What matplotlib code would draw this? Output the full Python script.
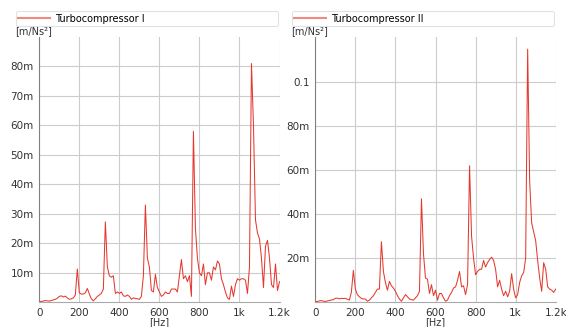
import numpy as np
import matplotlib
matplotlib.use("Agg")
import matplotlib.pyplot as plt
from matplotlib.ticker import FuncFormatter

# Data (amplitude in milli m/Ns^2, 10 Hz steps)
freq = np.arange(0, 1201, 10)

amp_1 = [0.3, 0.3, 0.4, 0.6, 0.5, 0.4, 0.6, 0.8, 1.0, 1.4,
         2.0, 2.2, 1.8, 2.1, 1.5, 1.0, 1.2, 1.5, 2.5, 11.3,
         3.2, 2.8, 2.8, 3.2, 4.7, 2.8, 1.2, 0.5, 1.2, 2.0,
         2.5, 3.0, 4.5, 27.3, 12.0, 9.0, 8.5, 9.0, 3.0, 3.5,
         3.0, 3.5, 2.2, 2.0, 2.5, 2.0, 1.0, 1.5, 1.3, 1.2,
         1.0, 2.0, 9.0, 33.0, 15.0, 12.0, 4.0, 3.5, 9.5, 5.0,
         3.5, 2.0, 2.5, 3.5, 3.0, 3.0, 4.5, 4.5, 4.5, 3.5,
         9.0, 14.5, 8.0, 9.0, 7.0, 9.0, 2.0, 58.0, 25.0, 15.0,
         10.0, 9.0, 13.0, 6.0, 10.0, 10.0, 7.5, 12.0, 11.0, 14.0,
         13.0, 8.0, 6.0, 3.5, 1.5, 1.0, 5.5, 2.0, 6.0, 8.0,
         7.5, 8.0, 8.0, 7.5, 3.0, 12.0, 81.0, 60.0, 28.0, 23.5,
         21.5, 15.0, 5.0, 19.0, 21.0, 15.0, 6.0, 5.0, 13.0, 4.0,
         7.0]

amp_2 = [0.3, 0.4, 0.6, 0.8, 0.5, 0.4, 0.6, 0.8, 1.0, 1.2,
         1.8, 1.9, 1.6, 1.8, 1.7, 1.8, 1.4, 1.0, 4.5, 14.5,
         6.0, 3.5, 2.5, 1.8, 1.5, 1.5, 0.5, 1.0, 2.0, 3.0,
         4.5, 6.0, 6.0, 27.5, 14.0, 9.0, 5.5, 9.5, 7.5, 6.5,
         5.0, 3.0, 1.5, 0.5, 2.0, 3.5, 2.5, 1.5, 1.2, 1.0,
         2.0, 3.0, 5.0, 47.0, 22.0, 11.0, 10.5, 4.0, 8.0, 3.0,
         5.5, 1.0, 4.0, 4.0, 2.0, 0.5, 1.0, 3.0, 4.5, 6.5,
         7.0, 10.0, 14.0, 7.0, 7.5, 3.5, 8.0, 62.0, 30.0, 20.0,
         12.5, 14.0, 15.0, 15.0, 19.0, 16.0, 18.0, 19.5, 20.5, 19.0,
         15.0, 7.0, 10.0, 6.0, 3.0, 5.0, 2.5, 5.0, 13.0, 6.0,
         2.0, 3.5, 9.0, 12.0, 13.5, 20.0, 115.0, 55.0, 36.0, 32.0,
         28.0, 19.0, 11.0, 5.0, 18.0, 15.0, 7.0, 6.0, 5.5, 4.5,
         6.0]

labels = ["Turbocompressor I", "Turbocompressor II"]
yticks_1 = [0.01, 0.02, 0.03, 0.04, 0.05, 0.06, 0.07, 0.08]
yticks_2 = [0.02, 0.04, 0.06, 0.08, 0.1]
xticks = [0, 200, 400, 600, 800, 1000, 1200]

line_col = "#e5392f"
grid_col = "#cccccc"

def fmt_x(v, pos):
    if v >= 1000:
        return "{:g}k".format(v / 1000)
    return "{:g}".format(v)

def fmt_y(v, pos):
    if v >= 0.1 - 1e-9:
        return "{:g}".format(round(v, 3))
    return "{:g}m".format(round(v * 1000, 3))

fig = plt.figure(figsize=(5.66, 3.27), dpi=100)
W, H = 566.0, 327.0
panels = [
    (39.3, 279.5, amp_1, yticks_1, 0.090, labels[0]),
    (315.3, 555.7, amp_2, yticks_2, 0.1205, labels[1]),
]

for x0, x1, amp, yt, ytop, lab in panels:
    ax = fig.add_axes([x0 / W, 1 - 302.3 / H, (x1 - x0) / W, (302.3 - 37) / H])
    ax.plot(freq, np.array(amp) / 1000, color=line_col, lw=0.75, label=lab)
    ax.set_xlim(0, 1200)
    ax.set_ylim(0, ytop)
    ax.set_xticks(xticks)
    ax.set_yticks(yt)
    ax.xaxis.set_major_formatter(FuncFormatter(fmt_x))
    ax.yaxis.set_major_formatter(FuncFormatter(fmt_y))
    ax.grid(True, color=grid_col, lw=0.8)
    ax.set_axisbelow(True)
    ax.tick_params(length=0, labelsize=7.5, colors="#333333", pad=4)
    for s in ["top", "right"]:
        ax.spines[s].set_visible(False)
    ax.spines["left"].set_color("#808080")
    ax.spines["bottom"].set_color("#aaaaaa")
    ax.spines["left"].set_linewidth(0.8)
    ax.spines["bottom"].set_linewidth(0.8)

    # legend box spanning the panel top
    w = x1 - x0
    h = 302.3 - 37
    lx0 = (x0 - 23.3 - x0) / w
    lx1 = (x1 - 1.5 - x0) / w
    ly0 = (302.3 - 26) / h
    ly1 = (302.3 - 13) / h
    leg = ax.legend(loc="lower left", bbox_to_anchor=(lx0, ly0, lx1 - lx0, ly1 - ly0),
                    mode="expand", fontsize=7, frameon=True, fancybox=True,
                    borderaxespad=0, borderpad=0.25, handlelength=3.2,
                    handletextpad=0.6)
    leg.get_frame().set_edgecolor("#d8dde3")
    leg.get_frame().set_linewidth(0.8)
    leg.get_lines()[0].set_color("#f08a7e")
    leg.get_lines()[0].set_linewidth(1.5)

    fig.text((x0 - 24) / W, 1 - 31.5 / H, "[m/Ns²]", fontsize=7, color="#333333",
             ha="left", va="center")
    fig.text((x0 + x1) / 2 / W, 1 - 322 / H, "[Hz]", fontsize=7, color="#333333",
             ha="center", va="center")

fig.savefig("out.png", dpi=100)
